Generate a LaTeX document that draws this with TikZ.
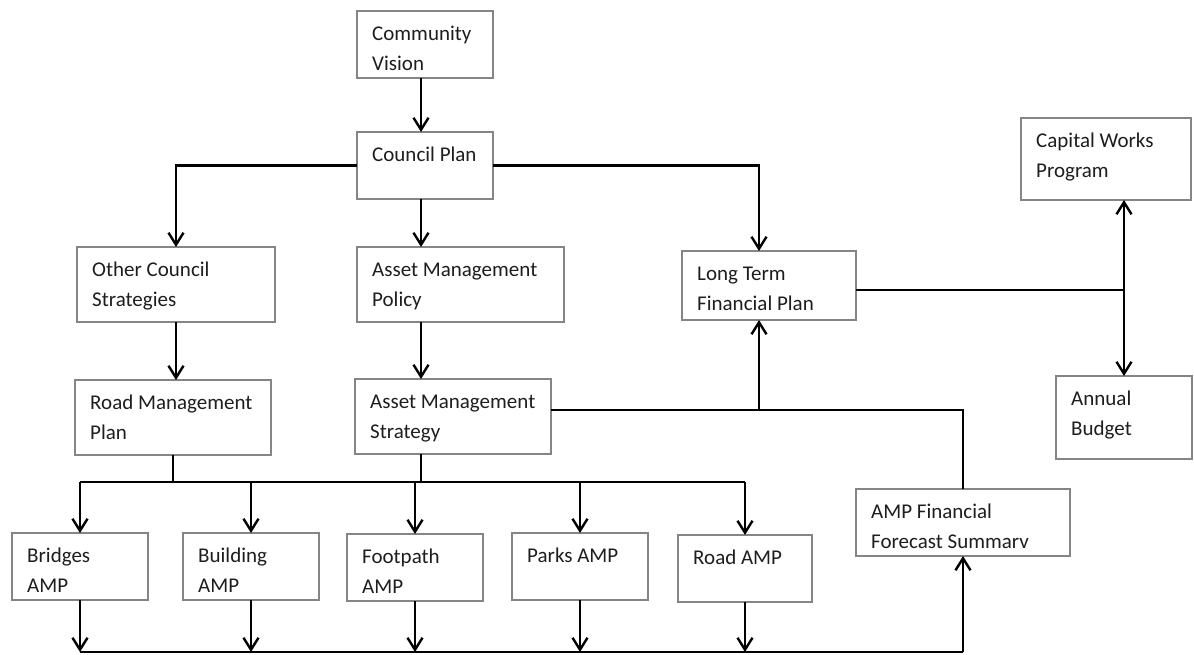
\documentclass[tikz,border=0pt]{standalone}
\usepackage{fontspec}
\setmainfont{Carlito}
\usetikzlibrary{arrows.meta,calc}
\definecolor{boxgray}{HTML}{858585}
\definecolor{textcol}{HTML}{1E1E1E}
\newcommand\bx[6]{%
  \node[box, minimum width={(#4-#2)*1pt}, minimum height={(#5-#3)*1pt}] (#1) at (#2,#3) {};
  \node[lbl] (#1t) at ($(#1.north west)+(15,8)$) {#6};}
\begin{document}
\begin{tikzpicture}[x=1pt,y=-1pt,
  box/.style={draw=boxgray, line width=1.3pt, inner sep=0pt, outer sep=0pt, anchor=north west},
  lbl/.style={anchor=north west, inner sep=0pt, align=left, font=\fontsize{21}{30}\selectfont, text=textcol},
  conn/.style={line width=2.4pt, black},
  arr/.style={conn, -{Straight Barb[length=12pt,width=15pt]}}]
\fill[white] (0,0) rectangle (1194,654);
\useasboundingbox (0,0) rectangle (1194,654);

\bx{cv}{357}{11}{493}{78}{\strut Community\\\strut Vision}
\bx{cp}{357}{132}{493}{199}{\strut Council Plan}
\bx{ocs}{77}{247}{275}{322}{\strut Other Council\\\strut Strategies}
\bx{amp}{357}{247}{564}{322}{\strut Asset Management\\\strut Policy}
\bx{ltfp}{682}{251}{856}{320}{\strut Long Term\\\strut Financial Plan}
\bx{cwp}{1021}{118}{1191}{200}{\strut Capital Works\\\strut Program}
\bx{rmp}{75}{380}{271}{455}{\strut Road Management\\\strut Plan}
\bx{ams}{355}{379}{551}{454}{\strut Asset Management\\\strut Strategy}
\bx{ab}{1056}{376}{1192}{459}{\strut Annual\\\strut Budget}
\bx{ffs}{856}{489}{1070}{556}{\strut AMP Financial\\\strut Forecast Summarv}
\bx{bridges}{12}{533}{148}{600}{\strut Bridges\\\strut AMP}
\bx{building}{183}{533}{319}{600}{\strut Building\\\strut AMP}
\bx{footpath}{347}{534}{483}{601}{\strut Footpath\\\strut AMP}
\bx{parks}{512}{533}{648}{600}{\strut Parks AMP}
\bx{road}{678}{535}{812}{602}{\strut Road AMP}

\coordinate (c1) at (421,0);
\coordinate (c2) at (759,0);
\coordinate (bus) at (0,482);
\coordinate (bot) at (0,652);
\coordinate (ml) at (0,410);
\coordinate (j) at (1124,290);

\draw[arr] (c1 |- cv.south) -- (c1 |- cp.north);
\draw[arr] (cp.west) -| (ocs.north);
\draw[arr] (c1 |- cp.south) -- (c1 |- amp.north);
\draw[arr] (cp.east) -| (c2 |- ltfp.north);
\draw[arr] (ocs.south) -- (ocs.south |- rmp.north);
\draw[arr] (c1 |- amp.south) -- (c1 |- ams.north);

\draw[conn] (rmp.south) -- (rmp.south |- bus);
\draw[conn] (c1 |- ams.south) -- (c1 |- bus);
\draw[conn] (bridges.north |- bus) -- (road.north |- bus);
\foreach \b in {bridges,building,footpath,parks,road}{
  \draw[arr] (\b.north |- bus) -- (\b.north);
  \draw[arr] (\b.south) -- (\b.south |- bot);
}
\draw[conn] (bridges.south |- bot) -- (ffs.south |- bot);
\draw[arr] (ffs.south |- bot) -- (ffs.south);

\draw[conn] (ams.east |- ml) -| (ffs.north);
\draw[arr] (c2 |- ml) -- (c2 |- ltfp.south);

\draw[conn] (ltfp.east |- j) -- (j);
\draw[arr] (j) -- (j |- cwp.south);
\draw[arr] (j) -- (j |- ab.north);
\end{tikzpicture}
\end{document}
